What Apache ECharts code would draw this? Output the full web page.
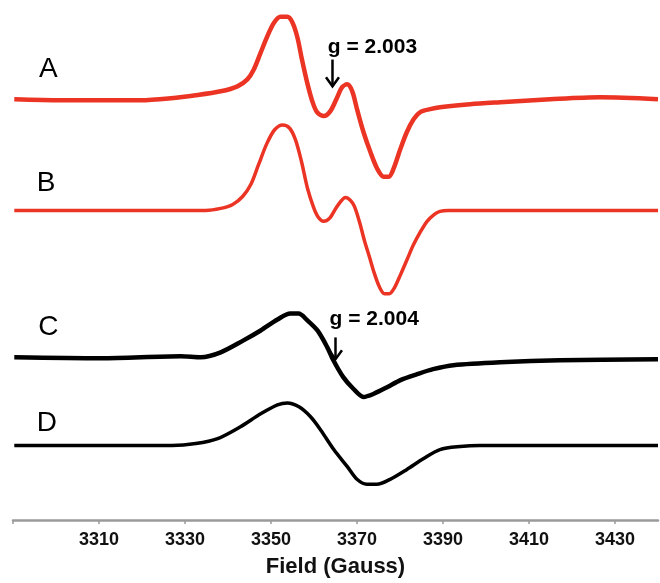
<!DOCTYPE html>
<html>
<head>
<meta charset="utf-8">
<script src="https://cdn.jsdelivr.net/npm/echarts@6/dist/echarts.min.js"></script>
<style>
  html, body { margin: 0; padding: 0; background: #fff; }
  #chart { width: 660px; height: 583px; }
</style>
</head>
<body>
<div id="chart"></div>
<script>
// field (Gauss) and signal (arbitrary units, up = positive) for each trace
var fieldA = [3290.3, 3301.2, 3310.5, 3319.7, 3326.7, 3332.5, 3338.3, 3342.2, 3344.5, 3346.0, 3347.6, 3349.1, 3350.7, 3352.2, 3353.8, 3354.9, 3356.1, 3357.2, 3358.4, 3359.6, 3360.7, 3362.3, 3363.8, 3365.4, 3366.5, 3367.7, 3368.9, 3370.0, 3371.5, 3373.1, 3374.7, 3376.2, 3377.4, 3378.5, 3380.1, 3381.6, 3383.2, 3384.7, 3387.0, 3389.3, 3396.3, 3403.3, 3414.9, 3426.5, 3440];
var sigA   = [0, -1, -1, -1, 1, 4, 8, 13, 20, 30, 47, 63, 77, 83, 83, 78, 63, 40, 17, -2, -13, -17, -12, 2, 12, 15, 8, -10, -33, -53, -70, -78, -78, -70, -50, -33, -20, -13, -10, -8, -5, -3, 0, 2, 0];

var fieldB = [3290.3, 3334.8, 3338.3, 3341.1, 3343.4, 3345.3, 3347.1, 3349.0, 3350.8, 3352.7, 3354.3, 3355.7, 3357.1, 3358.5, 3359.9, 3361.0, 3362.2, 3363.6, 3365.2, 3366.4, 3367.3, 3368.5, 3369.4, 3370.6, 3371.7, 3372.9, 3374.0, 3375.2, 3376.4, 3377.5, 3378.7, 3380.1, 3381.7, 3383.1, 3384.7, 3386.3, 3388.0, 3389.3, 3391.2, 3440];
var sigB   = [0, 0, 2, 6, 14, 26, 46, 67, 81, 86, 83, 71, 49, 22, 3, -7, -11, -8, 3, 10, 13, 10, 4, -12, -30, -47, -63, -77, -84, -84, -78, -65, -49, -35, -22, -11, -4, -1, 0, 0];

var fieldC = [3290.3, 3310.5, 3329.0, 3333.7, 3338.3, 3343.6, 3347.6, 3351.5, 3354.5, 3356.4, 3358.5, 3360.8, 3363.1, 3364.5, 3366.8, 3369.2, 3371.5, 3373.8, 3377.1, 3380.1, 3384.0, 3387.7, 3392.4, 3403.3, 3417.2, 3440];
var sigC   = [0, -1, 1, 0, 5, 17, 27, 38, 44, 44, 37, 27, 10, -3, -20, -32, -40, -37, -30, -23, -17, -12, -8, -5, -3, -2];

var fieldD = [3290.3, 3327.0, 3332.5, 3337.6, 3342.9, 3347.6, 3351.5, 3353.8, 3356.5, 3359.2, 3361.5, 3364.6, 3367.7, 3370.0, 3372.3, 3374.6, 3377.7, 3381.6, 3385.5, 3389.3, 3394.0, 3398.6, 3440];
var sigD   = [0, 0, 2, 7, 19, 32, 41, 43, 39, 29, 16, -4, -21, -34, -39, -39, -34, -24, -13, -4, -1, 0, 0];

// vertical offsets of the stacked traces
var offsets = [424, 312, 164, 75];
var traceNames = ['A', 'B', 'C', 'D'];
var traceColors = ['#ec3424', '#ec3424', '#000000', '#000000'];
var traceWidths = [4.5, 3.5, 4.5, 3.5];

var tickValues = [3290, 3310, 3330, 3350, 3370, 3390, 3410, 3430];
var labelValues = [3310, 3330, 3350, 3370, 3390, 3410, 3430];

// annotations: letter positions and g-value marks
var letterPos = [[3298.2, 454], [3297.7, 339], [3298.2, 194], [3297.9, 97]];
var gLabels = ['g = 2.003', 'g = 2.004'];
var gTextPos = [[3373.6, 476], [3374.0, 202]];
var gArrows = [[3364.3, 464, 437], [3365.0, 184, 162]];

var fields = [fieldA, fieldB, fieldC, fieldD];
var sigs = [sigA, sigB, sigC, sigD];

var font = '"Liberation Sans", Arial, Helvetica, sans-serif';

var series = traceNames.map(function (n, i) {
  return {
    name: n,
    type: 'line',
    showSymbol: false,
    smooth: 0.3,
    data: fields[i].map(function (f, k) { return [f, offsets[i] + sigs[i][k]]; }),
    lineStyle: { color: traceColors[i], width: traceWidths[i] },
    itemStyle: { color: traceColors[i] }
  };
});

var chart = echarts.init(document.getElementById('chart'));
var option = {
  animation: false,
  grid: { left: 13, right: 2, top: 0, bottom: 59 },
  xAxis: {
    type: 'value',
    min: 3290,
    max: 3440,
    name: 'Field (Gauss)',
    nameLocation: 'middle',
    nameGap: 36,
    nameTextStyle: { fontSize: 22, fontWeight: 'bold', color: '#111', fontFamily: font },
    axisLine: { lineStyle: { color: '#9a9a9a', width: 2.5 } },
    axisTick: { show: true, customValues: tickValues, length: 4, lineStyle: { color: '#9a9a9a', width: 1.5 } },
    axisLabel: {
      customValues: labelValues, margin: 11, fontSize: 18, fontWeight: 'bold', color: '#111', fontFamily: font,
      formatter: function (v) { return String(v); }
    },
    splitLine: { show: false }
  },
  yAxis: {
    type: 'value',
    min: 0,
    max: 524,
    show: false,
    splitLine: { show: false }
  },
  series: series
};
chart.setOption(option);

// annotations placed through the axes
var graphics = [];
letterPos.forEach(function (p, i) {
  var px = chart.convertToPixel({ gridIndex: 0 }, p);
  graphics.push({
    type: 'text', x: px[0], y: px[1],
    style: { text: traceNames[i], fontSize: 28, fontFamily: font, fill: '#000', align: 'center', verticalAlign: 'middle' }
  });
});
gTextPos.forEach(function (p, i) {
  var px = chart.convertToPixel({ gridIndex: 0 }, p);
  graphics.push({
    type: 'text', x: px[0], y: px[1],
    style: { text: gLabels[i], fontSize: 21, fontWeight: 'bold', fontFamily: font, fill: '#000', align: 'center', verticalAlign: 'middle' }
  });
});
gArrows.forEach(function (a) {
  var top = chart.convertToPixel({ gridIndex: 0 }, [a[0], a[1]]);
  var bot = chart.convertToPixel({ gridIndex: 0 }, [a[0], a[2]]);
  graphics.push({
    type: 'line',
    shape: { x1: top[0], y1: top[1], x2: bot[0], y2: bot[1] },
    style: { stroke: '#000', lineWidth: 2.5 }
  });
  graphics.push({
    type: 'polyline',
    shape: { points: [[bot[0] - 6.5, bot[1] - 9], [bot[0], bot[1]], [bot[0] + 6.5, bot[1] - 9]] },
    style: { stroke: '#000', lineWidth: 2.5, fill: null }
  });
});
chart.setOption({ graphic: graphics });
</script>
</body>
</html>
